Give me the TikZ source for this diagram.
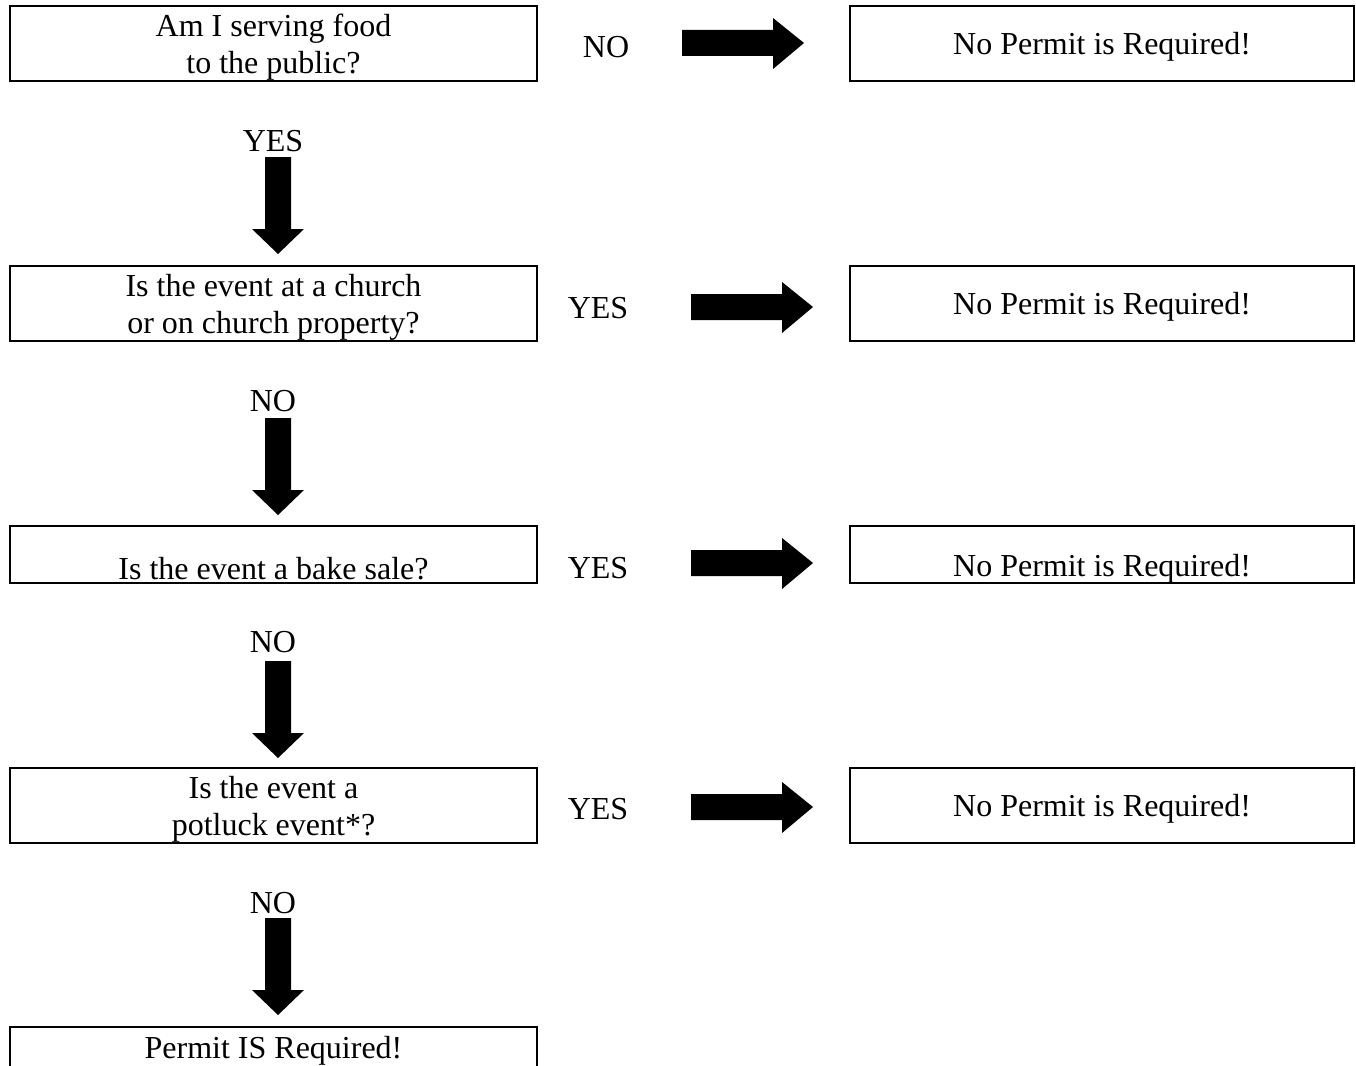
\documentclass[tikz,border=0pt]{standalone}
\usepackage{fontspec}
\setmainfont{Liberation Serif}
\begin{document}
\begin{tikzpicture}[x=1pt,y=-1pt,
  box/.style={draw,line width=2pt,inner sep=0pt,minimum width=527pt,minimum height=75pt},
  rbox/.style={draw,line width=2pt,inner sep=0pt,minimum width=504pt,minimum height=75pt},
  txt/.style={inner sep=0pt,align=center,yshift=-3.5pt,font=\fontsize{32}{37}\selectfont},
  downblk/.pic={\fill (-13,0) -- (13,0) -- (13,72) -- (26,72) -- (0,97) -- (-26,72) -- (-13,72) -- cycle;},
  rightblk/.pic={\fill (0,-13) -- (91,-13) -- (91,-25) -- (122,0) -- (91,26) -- (91,13) -- (0,13) -- cycle;}
]
\useasboundingbox (0,0) rectangle (1356,1065);
\clip (0,0) rectangle (1356,1065);
\fill[white] (0,0) rectangle (1356,1065);

% left column
\node[box] (q1) at (273.5,43.5) {};
\node[txt] (t1) at (q1.center) {Am I serving food\\to the public?};
\node[box] (q2) at (273.5,303.5) {};
\node[txt] (t2) at (q2.center) {Is the event at a church\\or on church property?};
\node[box,minimum height=57pt] (q3) at (273.5,554.5) {};
\node[txt] (t3) at (273.5,565) {Is the event a bake sale?};
\node[box] (q4) at (273.5,805.5) {};
\node[txt] (t4) at (q4.center) {Is the event a\\potluck event*?};
\node[box] (q5) at (273.5,1064.5) {};
\node[txt] (t5) at (273.5,1047) {Permit IS Required!};

% right column
\node[rbox] (r1) at (1102,43.5) {};
\node[txt] at (r1.center) {No Permit is Required!};
\node[rbox] (r2) at (1102,303.5) {};
\node[txt] at (r2.center) {No Permit is Required!};
\node[rbox,minimum height=57pt] (r3) at (1102,554.5) {};
\node[txt] at (1102,565) {No Permit is Required!};
\node[rbox] (r4) at (1102,805.5) {};
\node[txt] at (r4.center) {No Permit is Required!};

% vertical labels and arrows
\node[txt] (l1) at (273,138) {YES};
\pic at (278,157) {downblk};
\node[txt] (l2) at (273,398) {NO};
\pic at (278,418) {downblk};
\node[txt] (l3) at (273,639) {NO};
\pic at (278,661) {downblk};
\node[txt] (l4) at (273,900) {NO};
\pic at (278,918) {downblk};

% horizontal labels and arrows
\node[txt] (h1) at (606,44) {NO};
\pic at (682,43) {rightblk};
\node[txt] (h2) at (598,305) {YES};
\pic at (691,307) {rightblk};
\node[txt] (h3) at (598,565) {YES};
\pic at (691,563) {rightblk};
\node[txt] (h4) at (598,806) {YES};
\pic at (691,807) {rightblk};
\end{tikzpicture}
\end{document}
